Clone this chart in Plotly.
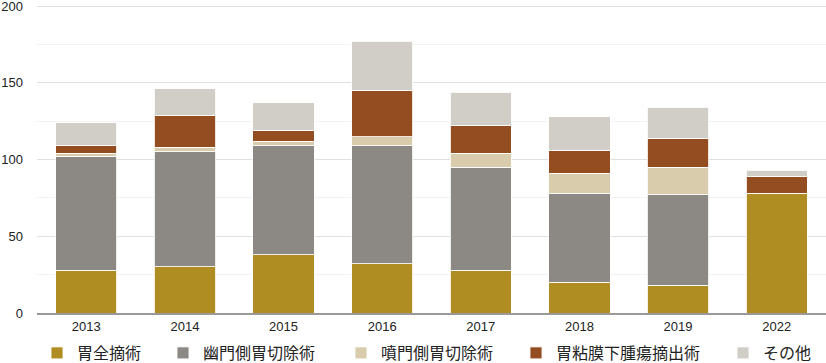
import plotly.graph_objects as go

years = ["2013", "2014", "2015", "2016", "2017", "2018", "2019", "2022"]
series_names = ["胃全摘術", "幽門側胃切除術", "噴門側胃切除術", "胃粘膜下腫瘍摘出術", "その他"]
total_gastrectomy = [28, 30, 38, 32, 28, 20, 18, 78]
distal_gastrectomy = [74, 75, 71, 77, 67, 58, 59, 0]
proximal_gastrectomy = [2, 3, 3, 6, 9, 13, 18, 0]
submucosal_resection = [5, 21, 7, 30, 18, 15, 19, 11]
others = [15, 17, 18, 32, 22, 22, 20, 4]
y_ticks = [0, 50, 100, 150, 200]

values = [total_gastrectomy, distal_gastrectomy, proximal_gastrectomy, submucosal_resection, others]
colors = ["#B08D22", "#8C8883", "#D9CCAC", "#944D21", "#D0CEC6"]
legend_ids = ["legend", "legend2", "legend3", "legend4", "legend5"]
legend_x_px = [37, 163, 341, 516, 723]

fig = go.Figure()
for name, vals, col, lid in zip(series_names, values, colors, legend_ids):
    fig.add_trace(go.Bar(
        x=years, y=vals, name=name, legend=lid,
        marker=dict(color=col, line=dict(color="rgba(255,255,255,0.85)", width=1)),
    ))

W, H = 826, 363
legend_font = dict(family="Noto Sans CJK JP, sans-serif", size=16, color="#222222")
legend_layout = {}
for lid, lx in zip(legend_ids, legend_x_px):
    legend_layout[lid] = dict(orientation="h", x=lx / W, xanchor="left", xref="container",
                              y=(H - 353) / H, yanchor="middle", yref="container",
                              font=legend_font, itemwidth=30, bgcolor="rgba(0,0,0,0)")

font_family = "Liberation Sans, Arial, Noto Sans CJK JP, sans-serif"
fig.update_layout(
    barmode="stack",
    bargap=0.38,
    width=W, height=H,
    margin=dict(l=37, r=0, t=3, b=50, autoexpand=False),
    plot_bgcolor="white", paper_bgcolor="white",
    font=dict(family=font_family, size=13, color="#222222"),
    showlegend=True,
    xaxis=dict(type="category", showgrid=False, showline=True, linecolor="#999999", linewidth=2,
               ticks="", tickfont=dict(size=13, color="#222222"), automargin=False),
    yaxis=dict(range=[0, 202], tickvals=y_ticks, showgrid=True, gridcolor="#E0E0E0", gridwidth=1,
               zeroline=False, ticks="", tickfont=dict(size=13, color="#222222"),
               automargin=False, ticklabelstandoff=13, ticklabeloverflow="allow",
               minor=dict(dtick=25, showgrid=True, gridcolor="#F2F2F2", gridwidth=1)),
    **legend_layout,
)

fig.write_html("out.html", config={"displayModeBar": False},
               post_script="document.body.style.margin='0';")
